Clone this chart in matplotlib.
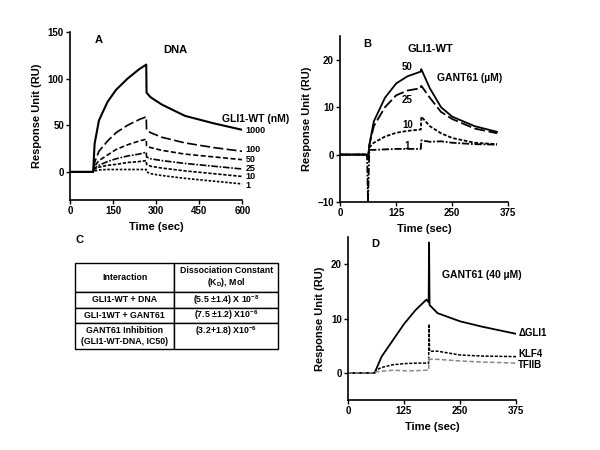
import numpy as np
import matplotlib.pyplot as plt

plt.rcParams['font.family'] = ['Liberation Sans', 'DejaVu Sans']
plt.rcParams['font.weight'] = 'bold'
plt.rcParams['font.size'] = 7

# panel A: GLI1-WT binding to DNA
a_time = [0, 80, 85, 100, 130, 160, 200, 240, 265, 266, 280, 320, 400, 500, 600]
a_curves = {
    "1000": [0, 0, 30, 55, 75, 88, 100, 110, 115, 85, 80, 72, 60, 52, 45],
    "100": [0, 0, 10, 22, 33, 42, 50, 56, 59, 45, 42, 37, 31, 26, 22],
    "50": [0, 0, 6, 12, 18, 24, 29, 33, 35, 28, 26, 23, 19, 16, 13],
    "25": [0, 0, 4, 7, 11, 14, 17, 19, 21, 16, 14, 12, 9, 6, 3],
    "10": [0, 0, 3, 5, 7, 8, 10, 11, 12, 8, 6, 4, 1, -2, -5],
    "1": [0, 0, 1, 2, 2.5, 2.5, 2.5, 2.5, 2.5, 0, -2, -4, -7, -10, -13],
}
a_styles = ['-', (0, (6, 2)), (0, (3, 1.5)), (0, (4, 1, 1, 1)), (0, (2, 1)), (0, (1.5, 1))]
a_label_y = {"1000": 44, "100": 24, "50": 13.5, "25": 3.5, "10": -5.5, "1": -14.5}

# panel B: GANT61 binding to GLI1-WT
b_time = [0, 60, 62, 65, 75, 100, 125, 150, 180, 181, 200, 225, 250, 300, 350]
b_curves = {
    "50": [0, 0, -1, 2, 7, 12, 15, 16.5, 17.5, 18, 14, 10, 8, 6, 4.8],
    "25": [0, 0, -1, 2, 6, 10, 12.5, 13.5, 14, 14.5, 12, 9, 7.5, 5.5, 4.5],
    "10": [0, 0, -1, 1.5, 2.5, 3.8, 4.6, 5, 5.3, 8, 6, 4.5, 3.5, 2.5, 2.2],
    "1": [0, 0, -10, 1, 1, 1.1, 1.2, 1.2, 1.2, 3, 2.7, 2.8, 2.5, 2.2, 2.1],
}
b_styles = ['-', (0, (6, 2)), (0, (2, 1)), (0, (4, 1, 1, 1))]
b_label_pos = {"50": (150, 18.5), "25": (150, 11.5), "10": (150, 6.2), "1": (150, 1.8)}

# panel D: GANT61 binding to other proteins
d_time = [0, 60, 62, 75, 100, 125, 150, 175, 180, 181, 182, 200, 250, 300, 375]
d_curves = {
    "ΔGLI1": [0, 0, 0.5, 3, 6, 9, 11.5, 13.5, 13, 24, 12.5, 11, 9.5, 8.5, 7.2],
    "KLF4": [0, 0, 0.5, 1, 1.5, 1.7, 1.8, 1.8, 1.8, 9, 4, 4, 3.3, 3.1, 3],
    "TFIIB": [0, 0, 0.2, 0.3, 0.5, 0.4, 0.4, 0.5, 0.5, 3, 2.5, 2.5, 2.2, 2, 1.8],
}
d_styles = ['-', (0, (2, 1)), (0, (3, 1.5))]
d_colors = ['black', 'black', '#888888']
d_label_y = {"ΔGLI1": 7.3, "KLF4": 3.4, "TFIIB": 1.4}

# panel C table
table_cols = ["Interaction", "Dissociation Constant\n(K$_\\mathregular{D}$), Mol"]
table_rows = [
    ["GLI1-WT + DNA", "(5.5 ±1.4) X 10$^\\mathregular{-8}$"],
    ["GLI-1WT + GANT61", "(7.5 ±1.2) X10$^\\mathregular{-6}$"],
    ["GANT61 Inhibition\n(GLI1-WT-DNA, IC50)", "(3.2+1.8) X10$^\\mathregular{-6}$\n "],
]


def style_axes(ax):
    for s in ['top', 'right']:
        ax.spines[s].set_visible(False)
    for s in ['left', 'bottom']:
        ax.spines[s].set_linewidth(1.2)
    ax.tick_params(width=1, length=3, labelsize=7, pad=1.5)
    ax.set_ylabel("Response Unit (RU)", fontsize=8, fontweight='bold')
    ax.set_xlabel("Time (sec)", fontsize=8, fontweight='bold')


fig = plt.figure(figsize=(6, 4.5), dpi=100)

# A
ax = fig.add_axes([0.117, 0.556, 0.287, 0.373])
for (name, vals), ls in zip(a_curves.items(), a_styles):
    ax.plot(a_time, vals, color='black', ls=ls, lw=1.5 if name == "1000" else 1.2)
    ax.text(612, a_label_y[name], name, fontsize=6.5, ha='left', va='center')
ax.text(530, 57, "GLI1-WT (nM)", fontsize=7.5, va='center')
ax.set_xlim(0, 600)
ax.set_ylim(-30, 150)
ax.set_xticks([0, 150, 300, 450, 600])
ax.set_yticks([0, 50, 100, 150])
ax.text(0.14, 0.98, "A", transform=ax.transAxes, fontsize=8, va='top')
ax.text(0.54, 0.92, "DNA", transform=ax.transAxes, fontsize=8, va='top')
style_axes(ax)

# B
ax = fig.add_axes([0.567, 0.551, 0.28, 0.369])
for (name, vals), ls in zip(b_curves.items(), b_styles):
    ax.plot(b_time, vals, color='black', ls=ls, lw=1.3)
    ax.text(*b_label_pos[name], name, fontsize=7, ha='center', va='center')
ax.text(215, 15.5, "GANT61 (µM)", fontsize=7.5)
ax.set_xlim(0, 375)
ax.set_ylim(-10, 25)
ax.set_xticks([0, 125, 250, 375])
ax.set_yticks([-10, 0, 10, 20])
ax.text(0.14, 0.98, "B", transform=ax.transAxes, fontsize=8, va='top')
ax.text(0.4, 0.95, "GLI1-WT", transform=ax.transAxes, fontsize=8, va='top')
style_axes(ax)

# D
ax = fig.add_axes([0.58, 0.111, 0.28, 0.362])
for (name, vals), ls, c in zip(d_curves.items(), d_styles, d_colors):
    ax.plot(d_time, vals, color=c, ls=ls, lw=1.3 if name == "ΔGLI1" else 1.1)
    ax.text(380, d_label_y[name], name, fontsize=7, ha='left', va='center')
ax.text(210, 17.5, "GANT61 (40 µM)", fontsize=7.5)
ax.set_xlim(0, 375)
ax.set_ylim(-5, 25)
ax.set_xticks([0, 125, 250, 375])
ax.set_yticks([0, 10, 20])
ax.text(0.14, 0.99, "D", transform=ax.transAxes, fontsize=8, va='top')
style_axes(ax)

# C
fig.text(75 / 600, 1 - 240 / 450, "C", fontsize=8, va='center')
tab_ax = fig.add_axes([75 / 600, 1 - 349 / 450, 203 / 600, 86 / 450])
tab_ax.axis('off')
tbl = tab_ax.table(cellText=table_rows, colLabels=table_cols, loc='center',
                   cellLoc='center', colWidths=[0.49, 0.51], bbox=[0, 0, 1, 1])
tbl.auto_set_font_size(False)
heights = [29 / 86, 16 / 86, 15 / 86, 26 / 86]
for (r, c), cell in tbl.get_celld().items():
    cell.set_height(heights[r])
    cell.set_linewidth(1)
    cell.get_text().set_fontsize(6.3)
    cell.get_text().set_fontweight('bold')

fig.savefig("out.png", dpi=100)
